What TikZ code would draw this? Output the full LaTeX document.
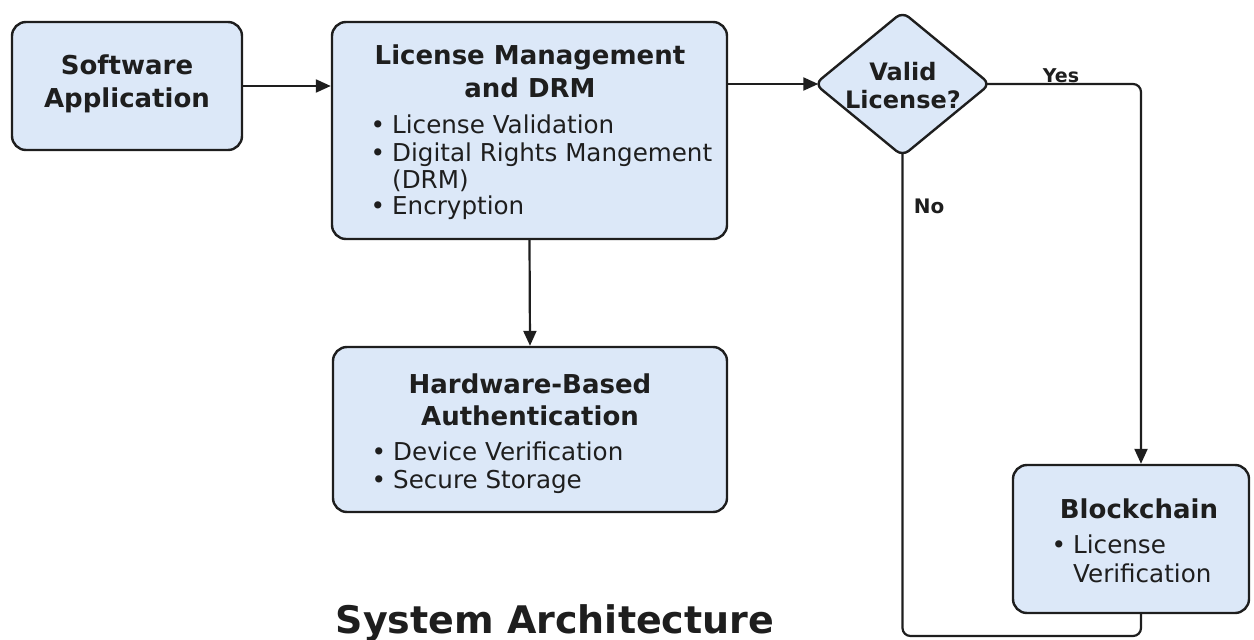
\documentclass[tikz,border=0pt]{standalone}
\usepackage{fontspec}
\setmainfont{DejaVu Sans}
\usetikzlibrary{arrows.meta,shapes.geometric}

\definecolor{boxfill}{HTML}{DCE8F8}
\definecolor{ink}{HTML}{1E1E1E}

\tikzset{
  box/.style={draw=ink, fill=boxfill, line width=2.4pt, rounded corners=14pt,
    inner sep=0pt},
  decision/.style={diamond, draw=ink, fill=boxfill, line width=2.4pt,
    rounded corners=8pt, inner sep=0pt, minimum width=176pt,
    minimum height=145pt, aspect=1.21},
  title/.style={anchor=base, text=ink, inner sep=0pt,
    font=\bfseries\fontsize{26}{30}\selectfont},
  item/.style={anchor=base west, text=ink, inner sep=0pt,
    font=\fontsize{24.6}{28}\selectfont},
  flow/.style={draw=ink, line width=2.2pt,
    -{Triangle[length=15pt,width=13pt]}},
  plain/.style={draw=ink, line width=2.2pt, rounded corners=8pt},
  tag/.style={anchor=base, text=ink, inner sep=0pt,
    font=\bfseries\fontsize{20}{22}\selectfont},
}
\newcommand{\bul}{\llap{\textbullet\hspace{7pt}}}

\begin{document}
\begin{tikzpicture}[x=1pt, y=-1pt]
  \useasboundingbox (0,0) rectangle (1254,640);

  % boxes
  \node[box, minimum width=230pt, minimum height=128pt] (sa) at (127,86) {};
  \node[box, minimum width=395pt, minimum height=217pt] (lm) at (529.5,130.5) {};
  \node[box, minimum width=394pt, minimum height=165pt] (hw) at (530,429.5) {};
  \node[box, minimum width=236pt, minimum height=148pt] (bc) at (1131,539) {};
  \node[decision] (dia) at (902.5,84) {};

  % box texts
  \node[title] (sa1) at (127,74) {Software};
  \node[title] (sa2) at (127,107) {Application};

  \node[title] (lm1) at (530,64) {License Management};
  \node[title] (lm2) at (530,97) {and DRM};
  \node[item] (lm3) at (392,133) {\bul License Validation};
  \node[item] (lm4) at (392,161) {\bul Digital Rights Mangement};
  \node[item] (lm5) at (392,188) {(DRM)};
  \node[item] (lm6) at (392,214) {\bul Encryption};

  \node[title] (hw1) at (530,393) {Hardware-Based};
  \node[title] (hw2) at (530,425) {Authentication};
  \node[item] (hw3) at (393,460) {\bul Device Verification};
  \node[item] (hw4) at (393,488) {\bul Secure Storage};

  \node[title] (bc1) at (1139,518) {Blockchain};
  \node[item] (bc2) at (1073,553) {\bul License};
  \node[item] (bc3) at (1073,582) {Verification};

  \node[title, font=\bfseries\fontsize{24}{28}\selectfont] (dv1) at (903,80) {Valid};
  \node[title, font=\bfseries\fontsize{24}{28}\selectfont] (dv2) at (903,108) {License?};

  % caption
  \node[title, font=\bfseries\fontsize{38}{44}\selectfont] (cap) at (555,633) {System Architecture};

  % connectors
  \draw[flow] (sa.east) -- (sa.east -| lm.west);
  \draw[flow] (lm.east |- dia.west) -- ([xshift=5pt]dia.west);
  \draw[flow] (lm.south) -- (hw.north);

  \coordinate (yesturn) at (1141,84);
  \coordinate (nolow) at (902.5,636);
  \coordinate (noright) at (1141,636);
  \draw[flow, rounded corners=8pt] ([xshift=-6pt]dia.east) -- (yesturn) -- (yesturn |- bc.north);
  \draw[plain] ([yshift=4pt]dia.south) -- (nolow) -- (noright) -- (noright |- bc.south);

  \node[tag, font=\bfseries\fontsize{19}{22}\selectfont] (yes) at (1061,82) {Yes};
  \node[tag] (no) at (929,213) {No};
\end{tikzpicture}
\end{document}
